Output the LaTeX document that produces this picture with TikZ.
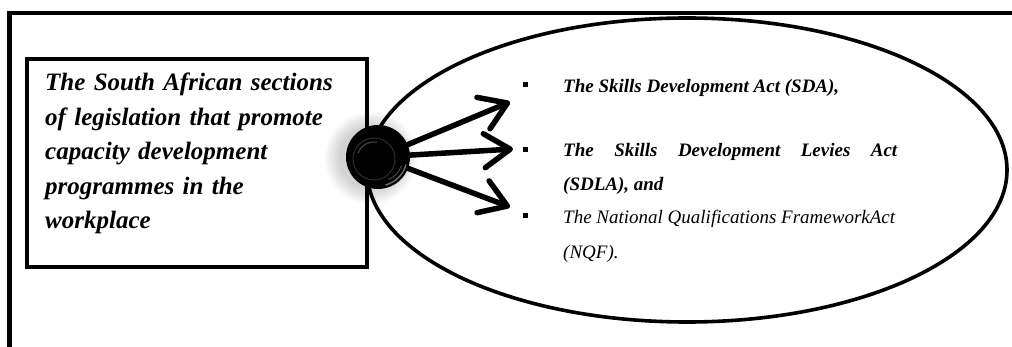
\documentclass[tikz,border=0pt]{standalone}
\usepackage{fontspec}
\setmainfont{Liberation Serif}
\usetikzlibrary{arrows.meta}
\begin{document}
\begin{tikzpicture}[x=1pt,y=-1pt,
  frameline/.style={line width=4.5pt},
  sourcebox/.style={draw, line width=4pt, inner sep=0pt,
    minimum width=340pt, minimum height=208pt},
  sourcetext/.style={anchor=north west, inner sep=0pt, text width=300pt,
    align=left, font=\fontsize{25}{34.5}\selectfont\bfseries\itshape},
  actlist/.style={draw, line width=3.6pt, inner sep=0pt},
  bulletmark/.style={fill=black, inner sep=0pt, minimum size=5pt},
  itemtext/.style={anchor=north west, inner sep=0pt, align=left,
    font=\fontsize{19}{33.5}\selectfont\bfseries\itshape},
  itemplain/.style={itemtext, font=\fontsize{19}{34.5}\selectfont\itshape},
  bigarrow/.style={line width=5.5pt, line cap=round,
    -{Straight Barb[length=26pt, width=34pt, round]}},
]
\useasboundingbox (0,0) rectangle (1012,347);

% outer frame, open towards the right and the bottom
\draw[frameline] (9.5,352) -- (9.5,13) -- (1020,13);

% the three acts
\draw[actlist] (687,170) ellipse (320 and 152);

% left box with its statement
\node[sourcebox] (src) at (196.75,163.5) {};
\node[sourcetext] (srctext) at (45,73)
  {The South African sections\\ of legislation that promote\\ capacity development\\ programmes in the\\ workplace};

% bullets and items
\node[bulletmark] (b1) at (525,85) {};
\node[bulletmark] (b2) at (525,150) {};
\node[bulletmark] (b3) at (525,216) {};
\node[itemtext] (i1) at (563,79) {The Skills Development Act (SDA),};
\node[itemtext] (i2) at (563,143.5)
  {\hbox to 334pt{The\hfill Skills\hfill Development\hfill Levies\hfill Act}\\(SDLA), and};
\node[itemplain] (i3) at (563,210)
  {\hbox to 330pt{The National Qualifications FrameworkAct\hss}\\(NQF).};

% targets of the arrows
\coordinate (t1) at (510,102);
\coordinate (t2) at (513,149);
\coordinate (t3) at (510,207);

% soft shadow behind the hub, strongest on its left
\foreach \r in {46,44,...,32}
  \fill[black, opacity=0.025] (371,158) circle (\r);

% arrows leaving the hub
\node[circle, inner sep=0pt, minimum size=62pt] (hubcore) at (378,157) {};
\draw[bigarrow] (hubcore) -- (t1);
\draw[bigarrow] (hubcore) -- (t2);
\draw[bigarrow] (hubcore) -- (t3);

% the hub itself: a dark button
\node[circle, fill=black, inner sep=0pt, minimum size=64pt] (hub) at (378,157) {};
\draw[black!82, line width=1pt] ([xshift=-4pt,yshift=-2pt]hub.center) circle (21);
\draw[black!70, line width=1pt] ([xshift=-4pt,yshift=-2pt]hub.center) ++(200:17) arc (200:280:17);
\draw[black!55, line width=1.3pt] (hub.center) ++(15:29) arc (15:75:29);
\draw[black!70, line width=0.9pt] (hub.center) ++(20:25) arc (20:65:25);
\end{tikzpicture}
\end{document}
